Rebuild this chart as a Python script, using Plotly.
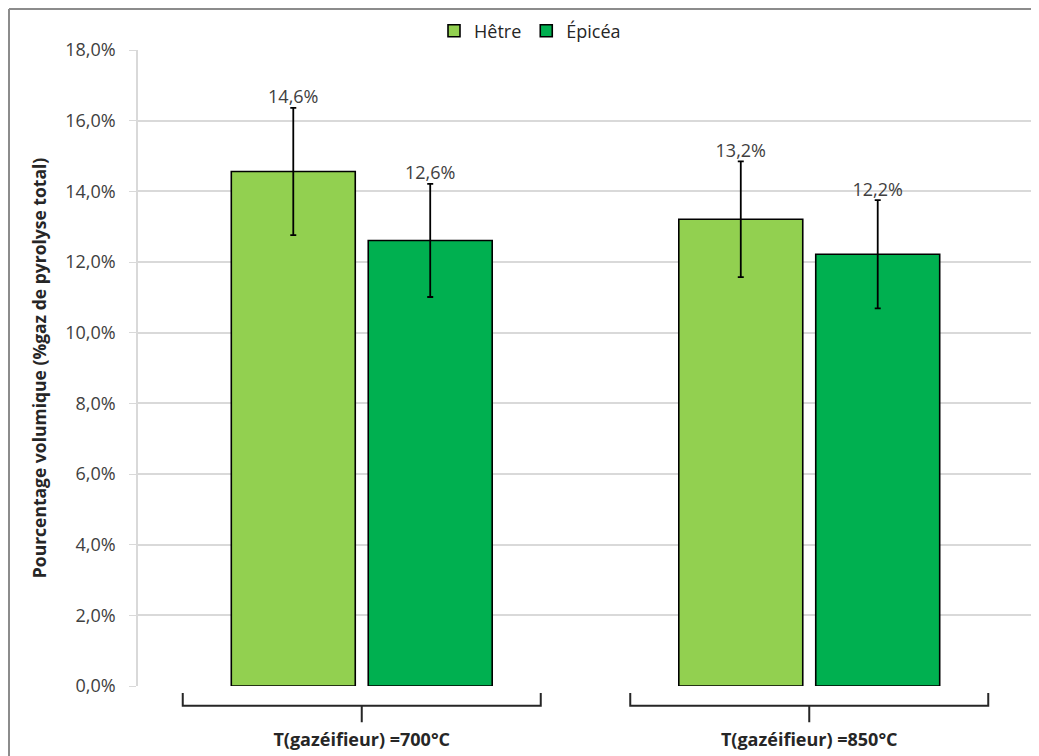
import plotly.graph_objects as go

groups = ["T(gazéifieur) =700°C", "T(gazéifieur) =850°C"]
series_names = ["Hêtre", "Épicéa"]
hetre = [0.1456, 0.1321]
epicea = [0.1261, 0.1222]
hetre_err = [0.0180, 0.0164]
epicea_err = [0.0160, 0.0153]
y_ticks = [0.0, 0.02, 0.04, 0.06, 0.08, 0.10, 0.12, 0.14, 0.16, 0.18]

colors = ["#92D050", "#00B050"]
FONT = "Open Sans"
W, H = 1039, 756
# page body adds an 8px offset; margins compensate
L, R, T, B = 130, 14, 42, 78

gx = list(range(len(groups)))
offset = 0.153
bw = 0.277

fig = go.Figure()
for k, (name, vals, errs, col) in enumerate(zip(series_names, [hetre, epicea], [hetre_err, epicea_err], colors)):
    xs = [g + (offset if k else -offset) for g in gx]
    fig.add_trace(go.Bar(
        x=xs, y=vals, width=bw, name=name,
        marker=dict(color=col, line=dict(color="#000000", width=1.6)),
        error_y=dict(type="data", array=errs, visible=True, color="#000000", thickness=1.8, width=3),
    ))
    fig.add_trace(go.Scatter(
        x=xs, y=[v + e for v, e in zip(vals, errs)], customdata=vals,
        mode="text", texttemplate="%{customdata:.1%}", textposition="top center",
        textfont=dict(family=FONT, size=18, color="#404040"), showlegend=False, hoverinfo="skip",
    ))

pw, ph = W - L - R, H - T - B

# brackets under each group
shapes = []
for g in gx:
    x0, x1 = g - 0.4, g + 0.4
    y_end, y_mid, y_tip = -0.011, -0.031, -0.057
    path = (f"M {x0},{y_end} L {x0},{y_mid} L {x1},{y_mid} L {x1},{y_end} "
            f"M {g},{y_mid} L {g},{y_tip}")
    shapes.append(dict(type="path", path=path, xref="x", yref="paper",
                       line=dict(color="#262626", width=2)))

# outer chart border (top and left)
bx = (1 - L) / pw
by = 1 + (T - 1) / ph
shapes.append(dict(type="line", xref="paper", yref="paper", x0=bx, x1=(W - L) / pw,
                   y0=by, y1=by, line=dict(color="#8c8c8c", width=2)))
shapes.append(dict(type="line", xref="paper", yref="paper", x0=bx, x1=bx,
                   y0=by, y1=-B / ph, line=dict(color="#8c8c8c", width=2)))

fig.update_layout(
    width=W, height=H,
    margin=dict(l=L, r=R, t=T, b=B, autoexpand=False),
    paper_bgcolor="white", plot_bgcolor="white",
    separators=", ",
    font=dict(family=FONT, size=18, color="#404040"),
    barmode="overlay",
    showlegend=True,
    legend=dict(orientation="h", x=(522 - L) / pw, xanchor="center", y=1 + (T - 23) / ph,
                yanchor="middle", font=dict(family=FONT, size=18, color="#262626"),
                traceorder="normal"),
    shapes=shapes,
    xaxis=dict(range=[-0.5, 1.5], tickvals=gx, ticktext=groups, showgrid=False, zeroline=False,
               showline=False, ticks="", ticklabelstandoff=41,
               tickfont=dict(family=FONT, size=18, color="#262626", weight="bold")),
    yaxis=dict(range=[0, 0.18], tickvals=y_ticks, tickformat=".1%", showgrid=True,
               gridcolor="#d9d9d9", gridwidth=1.5, zeroline=False, showline=True,
               linecolor="#d9d9d9", linewidth=1.5, ticks="outside", ticklen=7, tickcolor="#d9d9d9",
               ticklabelstandoff=10,
               tickfont=dict(family=FONT, size=18, color="#404040"),
               title=dict(text="Pourcentage volumique (%gaz de pyrolyse total)", standoff=14,
                          font=dict(family=FONT, size=17.5, color="#262626", weight="bold"))),
)

fig.write_html("out.html")
